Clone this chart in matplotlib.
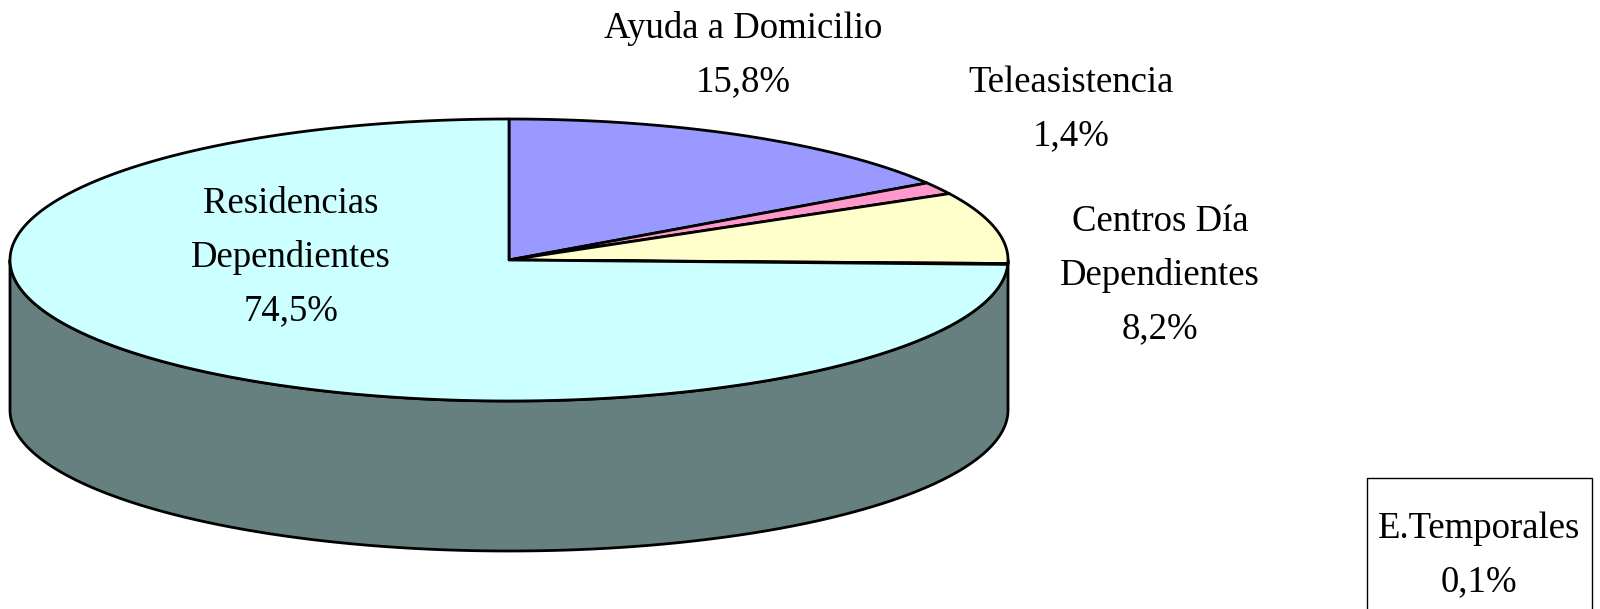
import numpy as np
import matplotlib.pyplot as plt
from matplotlib.patches import Polygon, Rectangle

plt.rcParams['font.family'] = ['Liberation Serif', 'DejaVu Serif']

labels = ['Ayuda a Domicilio', 'Teleasistencia', 'Centros Día\nDependientes',
          'E.Temporales', 'Residencias\nDependientes']
values = [15.8, 1.4, 8.2, 0.1, 74.5]
colors = ['#9999FF', '#FF99CC', '#FFFFCC', '#660066', '#CCFFFF']
side_color = '#668080'

# label centres (pixels, y down)
label_pos = [(743, 55), (1071, 109), (1160, 275), (1479, 555), (291, 257)]

cx, cy = 509, 260
rx, ry = 499, 141
depth = 150


def pt(theta):
    # theta in degrees, clockwise from 12 o'clock
    t = np.radians(theta)
    return cx + rx * np.sin(t), cy - ry * np.cos(t)


fig = plt.figure(figsize=(16, 6.09), dpi=100)
ax = fig.add_axes([0, 0, 1, 1])
ax.set_xlim(0, 1600)
ax.set_ylim(609, 0)
ax.axis('off')

# side wall (front half)
th = np.linspace(90, 270, 200)
xs, ys = pt(th)
side = list(zip(xs, ys)) + list(zip(xs[::-1], ys[::-1] + depth))
ax.add_patch(Polygon(side, closed=True, facecolor=side_color,
                     edgecolor='black', lw=2, joinstyle='round'))

# top slices
start = 0
for v, c in zip(values, colors):
    end = start + v * 3.6
    th = np.linspace(start, end, max(int(v * 10), 3))
    xs, ys = pt(th)
    poly = [(cx, cy)] + list(zip(xs, ys))
    ax.add_patch(Polygon(poly, closed=True, facecolor=c,
                         edgecolor='black', lw=2, joinstyle='round'))
    start = end

# labels
for lab, v, (x, y) in zip(labels, values, label_pos):
    txt = lab + '\n' + f'{v:.1f}'.replace('.', ',') + '%'
    ax.text(x, y, txt, ha='center', va='center', fontsize=26.5,
            linespacing=1.7, color='black')

# box around E.Temporales label
ax.add_patch(Rectangle((1367, 478), 225, 150, facecolor='none',
                       edgecolor='black', lw=1))

fig.savefig('out.png', dpi=100)
